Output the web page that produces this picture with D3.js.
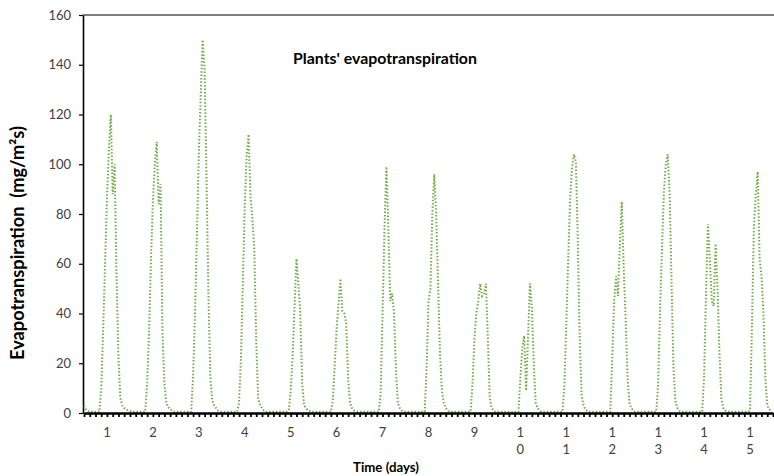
<!DOCTYPE html>
<html>
<head>
<meta charset="utf-8">
<script src="https://cdn.jsdelivr.net/npm/d3@7"></script>
<style>
  html, body { margin: 0; padding: 0; background: #fff; }
  svg { display: block; }
  text { font-family: Lato, "Open Sans", sans-serif; }
</style>
</head>
<body>
<svg id="chart" width="774" height="476"></svg>
<script>
// ---- data: hourly evapotranspiration (mg/m²s), 24 values per day ----
const day01 = [3,1.5,0.8,0.5,0.5,0.5,0.5,0.5,0.5,10,33,60,86,106,120,88,100,55,22,6,3,2,1.5,1];
const day02 = [0.8,0.5,0.5,0.5,0.5,0.5,0.5,0.5,0.5,12,32,62,85,100,109,84,92,32,12,4,2.5,1.5,1,0.5];
const day03 = [0.5,0.5,0.5,0.5,0.5,0.5,0.5,0.5,0.5,15,40,72,104,128,150,138,95,48,15,5,3,2,1,0.5];
const day04 = [0.5,0.5,0.5,0.5,0.5,0.5,0.5,0.5,0.5,4,22,52,84,104,112,87,78,65,28,6,3,2,1,0.5];
const day05 = [0.5,0.5,0.5,0.5,0.5,0.5,0.5,0.5,0.5,0.5,0.5,1,9,23,43,62,52,40,12,3,2,1,0.8,0.5];
const day06 = [0.5,0.5,0.5,0.5,0.5,0.5,0.5,0.5,0.5,0.5,5,19,34,44,54,41,40,36,14,4,2,1,0.8,0.5];
const day07 = [0.5,0.5,0.5,0.5,0.5,0.5,0.5,0.5,0.5,0.5,0.5,8,40,74,99,75,45,48,40,17,4,2,1,0.5];
const day08 = [0.5,0.5,0.5,0.5,0.5,0.5,0.5,0.5,0.5,0.5,0.5,18,45,50,80,96,80,52,24,9,4,2,1,0.5];
const day09 = [0.5,0.5,0.5,0.5,0.5,0.5,0.5,0.5,0.5,0.5,0.5,12,30,40,45,52,47,48,52,30,6,2,1,0.5];
const day10 = [0.5,0.5,0.5,0.5,0.5,0.5,0.5,0.5,0.5,0.5,0.5,0.5,14,26,31,9,30,52,42,20,4,2,1,0.5];
const day11 = [0.5,0.5,0.5,0.5,0.5,0.5,0.5,0.5,0.5,0.5,0.5,11,36,62,86,99,104,101,70,30,7,3,1.5,0.8];
const day12 = [0.5,0.5,0.5,0.5,0.5,0.5,0.5,0.5,0.5,0.5,0.5,0.5,22,45,55,47,68,85,58,38,14,4,2,1];
const day13 = [0.5,0.5,0.5,0.5,0.5,0.5,0.5,0.5,0.5,0.5,0.5,0.5,12,42,66,89,100,104,88,52,18,5,2,1];
const day14 = [0.5,0.5,0.5,0.5,0.5,0.5,0.5,0.5,0.5,0.5,0.5,0.5,15,48,76,62,45,43,68,50,25,6,2,1];
const day15 = [0.5,0.5,0.5,0.5,0.5,0.5,0.5,0.5,0.5,0.5,0.5,0.5,1,35,75,88,97,62,55,40,14,3,1.5,1];

const dayLabels = ["1","2","3","4","5","6","7","8","9","10","11","12","13","14","15"];
const yTicks = [0,20,40,60,80,100,120,140,160];
const chartTitle = "Plants' evapotranspiration";
const xTitle = "Time (days)";
const yTitle = "Evapotranspiration  (mg/m\u00B2s)";

const hoursPerDay = 24;
const series = [day01,day02,day03,day04,day05,day06,day07,day08,day09,day10,day11,day12,day13,day14,day15].flat();

// ---- layout ----
const svg = d3.select("#chart");
const plotL = 84, plotR = 773, plotT = 15, plotB = 413;

const x = d3.scaleLinear().domain([0, dayLabels.length * hoursPerDay]).range([plotL, plotR]);
const y = d3.scaleLinear().domain([0, 160]).range([plotB, plotT]);

// top border
svg.append("line")
  .attr("x1", plotL - 1).attr("x2", 774)
  .attr("y1", y(160)).attr("y2", y(160))
  .attr("stroke", "#000").attr("stroke-width", 1.2);

// y axis
const yAxis = svg.append("g")
  .attr("transform", `translate(${plotL - 1},0)`)
  .call(d3.axisLeft(y).tickValues(yTicks).tickSize(4).tickSizeOuter(0).tickPadding(8));
yAxis.select(".domain").attr("stroke", "#000").attr("stroke-width", 1.6);
yAxis.selectAll(".tick line").attr("stroke", "#000").attr("stroke-width", 1.2);
yAxis.selectAll(".tick text")
  .attr("font-size", 13).attr("fill", "#404040")
  .style("font-family", "Lato, sans-serif");

// line
const line = d3.line()
  .x((d, i) => x(i))
  .y(d => y(d));
svg.append("path")
  .datum(series)
  .attr("d", line)
  .attr("fill", "none")
  .attr("stroke", "#70ad47")
  .attr("stroke-width", 2)
  .attr("stroke-dasharray", "1.5 1.9");

// x axis with 3-hour minor ticks
const xAxis = svg.append("g")
  .attr("transform", `translate(0,${plotB})`)
  .call(d3.axisBottom(x)
    .tickValues(d3.range(0, dayLabels.length * hoursPerDay + 1, 3))
    .tickSize(4).tickSizeOuter(0).tickFormat(""));
xAxis.select(".domain").attr("stroke", "#000").attr("stroke-width", 2.4);
xAxis.selectAll(".tick line").attr("stroke", "#000").attr("stroke-width", 1.8);

// day labels (two-digit labels wrap onto two lines)
const lbl = svg.append("g").attr("class", "day-labels");
dayLabels.forEach((d, i) => {
  const cx = x(i * hoursPerDay + hoursPerDay / 2);
  const t = lbl.append("text")
    .attr("x", cx)
    .attr("y", 437)
    .attr("text-anchor", "middle")
    .attr("font-size", 13)
    .attr("fill", "#404040");
  d.split("").forEach((c, j) => {
    t.append("tspan")
      .attr("x", cx)
      .attr("dy", j === 0 ? 0 : 16.5)
      .text(c);
  });
});

// helper to fit text to measured width in the reference
function fit(sel, target) {
  const w = sel.node().getComputedTextLength();
  const fs = parseFloat(sel.attr("font-size"));
  if (w > 0) sel.attr("font-size", (fs * target / w).toFixed(2));
}

// titles
const t1 = svg.append("text")
  .attr("x", 385).attr("y", 63.5)
  .attr("text-anchor", "middle")
  .attr("font-size", 14).attr("font-weight", "bold").attr("fill", "#000")
  .text(chartTitle);
fit(t1, 184);

const t2 = svg.append("text")
  .attr("x", 386).attr("y", 472)
  .attr("text-anchor", "middle")
  .attr("font-size", 12).attr("font-weight", "bold").attr("fill", "#000")
  .text(xTitle);
fit(t2, 66);

const t3 = svg.append("text")
  .attr("transform", "translate(24,243) rotate(-90)")
  .attr("text-anchor", "middle")
  .attr("font-size", 14).attr("font-weight", "bold").attr("fill", "#000")
  .style("white-space", "pre")
  .text(yTitle);
fit(t3, 234);
</script>
</body>
</html>
